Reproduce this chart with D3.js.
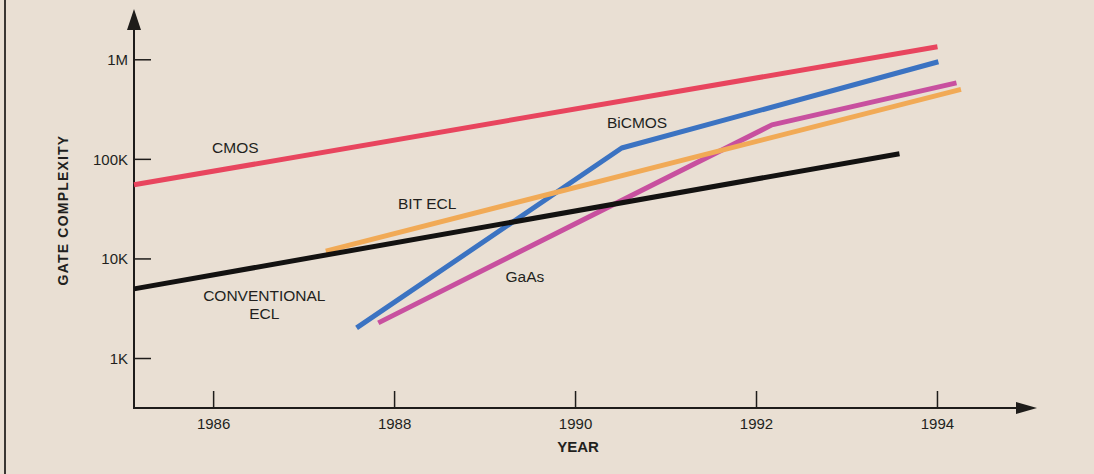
<!DOCTYPE html>
<html>
<head>
<meta charset="utf-8">
<script src="https://cdn.jsdelivr.net/npm/d3@7"></script>
<style>
  html, body { margin: 0; padding: 0; background: #e9dfd3; }
  svg { display: block; }
  text { font-family: "Liberation Sans", Arial, Helvetica, sans-serif; fill: #221f1d; }
</style>
</head>
<body>
<svg id="chart" width="1094" height="474"></svg>
<script>
// Gate complexity by logic technology, 1985–1994 (log scale)
const yearTicks = [1986, 1988, 1990, 1992, 1994];
const complexityTicks = [1e3, 1e4, 1e5, 1e6];
const complexityTickLabels = ["1K", "10K", "100K", "1M"];

// Each series: [year, gates]
const cmos            = [[1985.12, 55500], [1994.00, 1350000]];
const conventionalEcl = [[1985.12, 5000],  [1993.58, 114000]];
const bitEcl          = [[1987.24, 12000], [1994.26, 505000]];
const biCmos          = [[1987.58, 2030],  [1990.51, 130000], [1994.01, 955000]];
const gaAs            = [[1987.82, 2280],  [1992.17, 222000], [1994.21, 587000]];

const seriesNames  = ["BiCMOS", "GaAs", "BIT ECL", "CONVENTIONAL ECL", "CMOS"];
const seriesData   = [biCmos, gaAs, bitEcl, conventionalEcl, cmos];
const seriesColors = ["#3b73c2", "#c8509f", "#f1aa56", "#131211", "#e8455e"];

// Annotation anchors in data space: [year, gates]
const labelText    = ["CMOS", "BiCMOS", "BIT ECL", "GaAs", ["CONVENTIONAL", "ECL"]];
const labelAnchors = [[1986.24, 117000], [1990.68, 207000], [1988.36, 31800], [1989.44, 5870], [1986.56, 3780]];

const svg = d3.select("#chart");

const x = d3.scaleLinear().domain([1985.12, 1995.10]).range([134, 1037]);
const y = d3.scaleLog().domain([Math.pow(10, 2.503), Math.pow(10, 6.51)]).range([408, 9]);

const x0 = x.range()[0], x1 = x.range()[1];
const y0 = y.range()[0], y1 = y.range()[1];

// left frame rule
svg.append("rect").attr("x", 4).attr("y", 0).attr("width", 2).attr("height", 474).attr("fill", "#3a3633");

// axes
const axisColor = "#1e1c1a";
svg.append("line").attr("x1", x0).attr("x2", x1 - 16).attr("y1", y0).attr("y2", y0)
  .attr("stroke", axisColor).attr("stroke-width", 2);
svg.append("line").attr("x1", x0).attr("x2", x0).attr("y1", y0 + 1).attr("y2", y1 + 16)
  .attr("stroke", axisColor).attr("stroke-width", 2);
svg.append("path")
  .attr("d", `M${x1},${y0} L${x1 - 21},${y0 - 6} L${x1 - 21},${y0 + 6} Z`)
  .attr("fill", axisColor);
svg.append("path")
  .attr("d", `M${x0},${y1} L${x0 - 7},${y1 + 21} L${x0 + 7},${y1 + 21} Z`)
  .attr("fill", axisColor);

// x ticks (upward) and labels
const xt = svg.append("g");
xt.selectAll("line").data(yearTicks).join("line")
  .attr("x1", d => x(d)).attr("x2", d => x(d))
  .attr("y1", y0).attr("y2", y0 - 17)
  .attr("stroke", axisColor).attr("stroke-width", 1.5);
xt.selectAll("text").data(yearTicks).join("text")
  .attr("x", d => x(d)).attr("y", y0 + 21)
  .attr("text-anchor", "middle").attr("font-size", 15)
  .text(d => d);

// y ticks (rightward) and labels
const yt = svg.append("g");
yt.selectAll("line").data(complexityTicks).join("line")
  .attr("x1", x0).attr("x2", x0 + 17)
  .attr("y1", d => y(d)).attr("y2", d => y(d))
  .attr("stroke", axisColor).attr("stroke-width", 1.5);
yt.selectAll("text").data(complexityTicks).join("text")
  .attr("x", x0 - 6).attr("y", d => y(d) + 5.3)
  .attr("text-anchor", "end").attr("font-size", 15)
  .text((d, i) => complexityTickLabels[i]);

// axis titles
svg.append("text")
  .attr("x", 578).attr("y", 452)
  .attr("text-anchor", "middle").attr("font-size", 15).attr("font-weight", "bold")
  .text("YEAR");
svg.append("text")
  .attr("transform", "translate(68,210) rotate(-90)")
  .attr("text-anchor", "middle").attr("font-size", 14).attr("font-weight", "bold")
  .attr("letter-spacing", 1.2)
  .text("GATE COMPLEXITY");

// series lines
const line = d3.line().x(d => x(d[0])).y(d => y(d[1]));
svg.append("g").selectAll("path").data(seriesData).join("path")
  .attr("d", line)
  .attr("fill", "none")
  .attr("stroke", (d, i) => seriesColors[i])
  .attr("stroke-width", 5)
  .attr("stroke-linejoin", "round");

// series labels
const lg = svg.append("g");
labelText.forEach((t, i) => {
  const lines = Array.isArray(t) ? t : [t];
  const txt = lg.append("text")
    .attr("x", x(labelAnchors[i][0])).attr("y", y(labelAnchors[i][1]))
    .attr("text-anchor", "middle").attr("font-size", 15.5);
  lines.forEach((s, j) => {
    txt.append("tspan").attr("x", x(labelAnchors[i][0])).attr("dy", j === 0 ? 0 : 17.7).text(s);
  });
});
</script>
</body>
</html>
